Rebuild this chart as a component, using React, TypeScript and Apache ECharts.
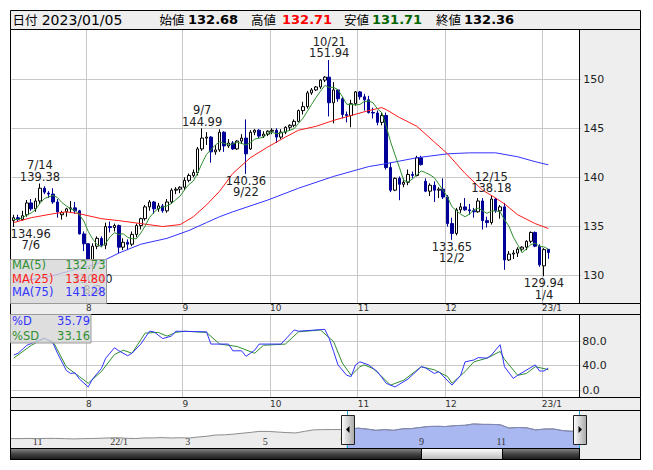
import React, { useEffect, useRef } from "react";
import * as echarts from "echarts";

const FONT = "'DejaVu Sans', 'Noto Sans CJK JP', sans-serif";
const JP = "'Noto Sans CJK JP', 'DejaVu Sans', sans-serif";
const GREEN = "#2f8f2f";
const RED = "#ff1a1a";
const BLUE = "#3333ff";
const NAVY = "#000099";
const GRID = "#c8c8c8";

// ---- trading days shown in the main window (Tokyo business days) ----
const tradeDates = [
  "7/6","7/7","7/8","7/11","7/12","7/13","7/14","7/15","7/19","7/20","7/21","7/22","7/25","7/26","7/27","7/28","7/29",
  "8/1","8/2","8/3","8/4","8/5","8/8","8/9","8/10","8/12","8/15","8/16","8/17","8/18","8/19","8/22","8/23","8/24","8/25","8/26","8/29","8/30","8/31",
  "9/1","9/2","9/5","9/6","9/7","9/8","9/9","9/12","9/13","9/14","9/15","9/16","9/20","9/21","9/22","9/26","9/27","9/28","9/29","9/30",
  "10/3","10/4","10/5","10/6","10/7","10/11","10/12","10/13","10/14","10/17","10/18","10/19","10/20","10/21","10/24","10/25","10/26","10/27","10/28","10/31",
  "11/1","11/2","11/4","11/7","11/8","11/9","11/10","11/11","11/14","11/15","11/16","11/17","11/18","11/21","11/22","11/24","11/25","11/28","11/29","11/30",
  "12/1","12/2","12/5","12/6","12/7","12/8","12/9","12/12","12/13","12/14","12/15","12/16","12/19","12/20","12/21","12/22","12/23","12/26","12/27","12/28","12/29","12/30",
  "1/4","1/5",
];
const blankDates = ["1/6","1/10","1/11","1/12","1/13","1/16","1/17"];
const janYear = "23";

// [open, high, low, close]
const ohlc: number[][] = [
  // July
  [135.60,136.20,134.96,135.90],[135.90,136.20,135.50,135.70],[135.70,136.60,135.60,136.10],[136.20,137.70,136.00,137.40],
  [137.40,137.80,136.60,136.80],[136.80,137.90,136.50,137.60],[137.60,139.38,137.30,138.90],[138.90,139.10,138.30,138.50],
  [138.40,138.60,137.90,138.30],[138.30,138.90,137.30,137.50],[137.50,137.80,135.90,136.50],[136.20,136.60,135.70,136.40],
  [136.50,136.90,136.00,136.80],[136.80,137.60,136.40,136.90],[136.90,137.50,136.30,136.60],[136.60,136.70,134.20,134.25],
  [134.25,134.50,132.50,133.25],
  // August
  [133.25,133.30,131.50,131.60],[131.60,133.30,130.40,133.00],[133.00,134.00,132.70,133.80],[133.80,134.00,132.90,133.10],
  [133.10,135.40,132.70,135.00],[135.00,135.50,134.40,134.90],[134.90,135.30,134.50,135.10],[135.10,135.20,132.30,132.90],
  [132.90,133.80,132.60,133.40],[133.40,133.70,132.60,133.20],[133.20,134.50,133.00,134.20],[134.20,135.30,133.90,135.10],
  [135.10,135.90,134.70,135.80],[135.80,137.20,135.60,137.00],[137.00,137.70,136.60,137.50],[137.50,137.60,136.30,136.80],
  [136.80,137.40,136.50,137.10],[137.10,137.30,136.40,136.60],[136.60,137.80,136.40,137.50],[137.50,138.90,137.30,138.70],
  [138.70,139.00,138.30,138.80],[138.80,139.10,138.40,139.00],
  // September
  [139.00,140.00,138.70,139.70],[139.70,140.40,139.50,140.20],[140.20,140.80,140.00,140.50],[140.50,143.10,140.20,142.90],
  [142.90,144.99,142.70,144.00],[144.00,144.60,143.30,144.10],[144.10,144.20,141.50,142.60],[142.60,143.30,142.30,142.80],
  [142.80,144.90,142.60,144.60],[144.60,144.70,142.60,143.20],[143.20,143.90,143.00,143.50],[143.50,143.70,142.80,142.90],
  [142.90,143.80,142.80,143.70],[143.70,144.40,143.40,144.00],[144.00,145.90,140.36,142.40],[142.90,144.80,142.80,144.60],
  [144.60,144.90,144.30,144.80],[144.80,144.90,144.00,144.20],[144.20,144.70,144.00,144.40],[144.40,144.80,144.20,144.70],
  // October
  [144.70,145.00,144.40,144.80],[144.80,145.00,143.50,144.10],[144.10,144.90,143.90,144.60],[144.60,145.20,144.40,145.10],
  [145.10,145.40,144.80,145.30],[145.30,145.90,145.10,145.70],[145.70,146.90,145.60,146.80],[146.80,147.70,146.40,147.20],
  [147.20,148.80,147.00,148.60],[148.60,149.10,148.40,148.90],[148.90,149.30,148.80,149.20],[149.20,150.00,149.00,149.90],
  [149.90,150.30,149.70,150.20],[150.20,151.94,146.20,147.60],[147.60,149.70,145.50,148.90],[148.90,149.00,147.70,148.00],
  [148.00,148.20,146.00,146.40],[146.40,146.70,145.60,146.30],[146.30,147.90,145.10,147.50],[147.50,148.80,147.30,148.70],
  // November
  [148.70,148.80,147.90,148.20],[148.20,148.50,146.80,147.90],[147.90,148.30,146.50,146.60],[146.60,147.10,146.00,146.55],
  [146.55,146.80,145.30,145.60],[145.60,146.60,145.30,146.30],[146.30,146.60,140.80,141.00],[141.00,141.50,138.50,138.70],
  [138.70,140.00,138.60,139.90],[139.90,140.10,137.68,139.30],[139.30,139.90,139.00,139.50],[139.50,140.80,139.20,140.30],
  [140.30,140.60,139.90,140.20],[140.20,142.20,140.10,142.00],[142.00,142.20,141.20,141.30],[139.60,139.90,138.50,138.60],
  [138.60,139.40,138.10,139.20],[139.20,139.60,137.50,138.70],[138.70,139.00,137.90,138.80],[138.80,139.90,137.80,138.00],
  // December
  [138.00,138.20,135.00,135.30],[135.30,135.90,133.65,134.30],[134.30,136.90,134.10,136.70],[136.70,137.40,136.40,137.00],
  [137.00,137.90,136.60,136.70],[136.70,137.30,136.20,136.60],[136.60,136.90,135.90,136.50],[136.50,137.90,136.40,137.60],
  [137.60,137.90,134.70,135.60],[135.60,136.00,134.90,135.40],[135.40,138.18,135.20,137.80],[137.80,137.90,136.40,136.60],
  [136.60,137.20,135.80,137.00],[137.00,137.40,130.60,131.60],[131.60,132.50,131.50,132.20],[132.20,132.60,131.70,132.30],
  [132.30,132.90,131.90,132.70],[132.70,133.00,132.40,132.90],[132.90,133.60,132.60,133.50],[133.50,134.50,133.30,134.40],
  [134.40,134.50,132.90,133.00],[133.00,133.20,130.90,131.10],
  // January
  [131.00,132.80,129.94,132.65],[132.68,132.71,131.71,132.36],
];
const priorCloses = [135.70, 135.30, 135.80, 135.90];

// moving averages: [day index, value]
const ma25Points = [
  [0,135.4],[4,135.9],[9,136.3],[12,136.5],[15,136.3],[20,135.8],[24,135.6],[29,135.3],[34,135.0],[38,135.2],
  [41,136.0],[44,137.2],[47,138.6],[50,140.4],[54,142.0],[58,143.1],[62,144.1],[65,144.8],[69,145.2],[73,145.8],
  [77,146.3],[81,146.8],[84,147.1],[85,146.9],[88,146.1],[92,145.2],[96,143.6],[99,142.4],[103,140.4],[107,138.7],
  [110,137.9],[112,137.3],[115,136.2],[119,135.3],[122,134.8],
];
const ma75Points = [
  [0,129.3],[8,129.9],[13,130.5],[19,131.2],[24,132.3],[29,133.2],[35,133.8],[40,134.6],[44,135.4],[47,136.0],
  [50,136.5],[58,137.7],[65,138.9],[73,140.1],[81,141.1],[85,141.4],[92,142.0],[99,142.4],[104,142.5],[110,142.5],
  [115,142.1],[119,141.6],[122,141.28],
];
// slow stochastics
const stochD = [
  [0,57],[1,60],[3,73],[5,79],[7,85],[9,76],[10,60],[12,32],[13,27],[14,28],[15,18],[17,5],[18,18],[20,35],[21,52],
  [23,69],[24,64],[26,56],[27,60],[29,75],[31,96],[32,95],[34,84],[36,88],[37,96],[44,95],[45,75],[49,75],[50,64],
  [52,64],[53,55],[55,65],[56,75],[61,75],[64,98],[65,96],[71,99],[72,84],[73,63],[74,41],[76,24],[77,22],[78,41],
  [79,46],[81,41],[83,30],[85,11],[87,5],[90,18],[93,38],[94,36],[96,27],[97,30],[100,8],[102,24],[103,46],[105,49],
  [106,53],[108,52],[109,57],[111,74],[112,38],[114,19],[115,24],[119,41],[120,31],[121,31],[122,35.79],
];
const stochSD = [
  [0,52],[4,73],[7,84],[9,79],[12,38],[14,27],[15,22],[17,11],[20,30],[23,58],[25,65],[27,60],[30,93],[33,94],
  [35,88],[37,94],[39,96],[44,94],[47,75],[51,71],[55,60],[57,73],[62,75],[65,95],[70,98],[73,79],[75,44],[77,24],
  [79,38],[80,41],[82,35],[84,22],[86,8],[89,16],[93,38],[96,33],[99,22],[100,11],[103,30],[105,46],[108,52],
  [111,63],[112,50],[115,24],[117,27],[119,38],[121,35],[122,33.16],
];
const priceTicks = [130, 135, 140, 145, 150];
const stochTicks = [0, 40, 80];
const highMarks = [6, 43, 72, 109];
const lowMarks = [0, 18, 53, 100, 121];

// navigator (weekly closes)
const navDates = [
  "2021-10-14","2021-10-22","2021-10-29","2021-11-05","2021-11-12","2021-11-19","2021-11-26","2021-12-03","2021-12-10",
  "2021-12-17","2021-12-24","2021-12-31","2022-01-07","2022-01-14","2022-01-21","2022-01-28","2022-02-04","2022-02-10",
  "2022-02-18","2022-02-25","2022-03-04","2022-03-11","2022-03-18","2022-03-25","2022-04-01","2022-04-08","2022-04-15",
  "2022-04-22","2022-04-28","2022-05-06","2022-05-13","2022-05-20","2022-05-27","2022-06-03","2022-06-10","2022-06-17",
  "2022-06-24","2022-07-01","2022-07-06","2022-07-08","2022-07-15","2022-07-22","2022-07-29","2022-08-05","2022-08-12",
  "2022-08-19","2022-08-26","2022-09-02","2022-09-09","2022-09-16","2022-09-22","2022-09-30","2022-10-07","2022-10-14",
  "2022-10-21","2022-10-28","2022-11-04","2022-11-11","2022-11-18","2022-11-25","2022-12-02","2022-12-09","2022-12-16",
  "2022-12-23","2022-12-30","2023-01-05",
];
const navValues = [
  113.6,113.5,114.0,113.4,114.0,114.0,113.4,112.8,113.4,
  113.7,114.4,115.1,115.6,114.2,113.7,115.2,115.2,115.9,
  115.0,115.6,114.8,117.3,119.2,122.1,122.5,124.3,126.4,
  128.5,130.8,130.6,129.2,127.9,127.1,130.9,134.4,135.0,
  135.2,135.2,135.9,136.1,138.5,136.4,133.3,135.0,133.4,
  137.0,137.5,140.2,142.6,142.9,142.4,144.7,145.3,148.6,
  147.6,147.5,146.6,138.7,140.2,139.2,134.3,136.5,136.6,
  132.7,131.1,132.4,
];
const navStart = "2021-10-14";
const navEnd = "2023-01-05";
const navSelectFrom = "2022-07-06";
const navLabelUntil = "2022-12-31";

const headerDate = "2023/01/05";
const headerItems = [
  { label: "始値", value: "132.68", color: "#000000" },
  { label: "高値", value: "132.71", color: "#ff0000" },
  { label: "安値", value: "131.71", color: "#006600" },
  { label: "終値", value: "132.36", color: "#000000" },
];
const maLegend = [
  { name: "MA(5)", value: "132.73", color: GREEN },
  { name: "MA(25)", value: "134.80", color: RED },
  { name: "MA(75)", value: "141.28", color: BLUE },
];
const stochLegend = [
  { name: "%D", value: "35.79", color: BLUE },
  { name: "%SD", value: "33.16", color: GREEN },
];

// ---------- derived structures ----------
const allDates = [...tradeDates, ...blankDates];
const boundaryCats = [...allDates, "end"];
const monthOf = (d: string) => +d.split("/")[0];
const isMonthStart = (k: number) =>
  k > 0 && k < allDates.length && monthOf(allDates[k]) !== monthOf(allDates[k - 1]);
const monthLabel = (k: number) => {
  if (!isMonthStart(k)) return "";
  const m = monthOf(allDates[k]);
  return m === 1 ? `${janYear}/1` : String(m);
};

const closesAll = [...priorCloses, ...ohlc.map((r) => r[3])];
const ma5 = ohlc.map((_, i) => {
  const s = closesAll.slice(i, i + 5);
  return +(s.reduce((a, b) => a + b, 0) / 5).toFixed(2);
});

const navDays: string[] = [];
{
  const [y0, m0, d0] = navStart.split("-").map(Number);
  const [y1, m1, d1] = navEnd.split("-").map(Number);
  const end = Date.UTC(y1, m1 - 1, d1);
  for (let t = Date.UTC(y0, m0 - 1, d0); t <= end; t += 86400000) {
    navDays.push(new Date(t).toISOString().slice(0, 10));
  }
}
const navIndex: Record<string, number> = {};
navDays.forEach((d, i) => (navIndex[d] = i));
const navIsTick = (v: string) => v.endsWith("-01") && +v.slice(5, 7) % 2 === 1;
const navIsLabel = (v: string) => navIsTick(v) && v <= navLabelUntil;
const navLabel = (v: string) => {
  if (!navIsLabel(v)) return "";
  const m = +v.slice(5, 7);
  return m === 1 ? `${v.slice(2, 4)}/1` : String(m);
};
const navAll = navDates.map((d, j) => [navIndex[d], navValues[j]]);
const navSel = navDates
  .map((d, j) => ({ d, v: navValues[j] }))
  .filter((p) => p.d >= navSelectFrom)
  .map((p) => [navIndex[p.d], p.v]);

// ---------- graphic helpers ----------
const rect = (id: string, x: number, y: number, w: number, h: number, fill: any, stroke: string, z: number) => ({
  type: "rect", id, silent: true, z,
  shape: { x, y, width: w, height: h },
  style: { fill, stroke, lineWidth: 1 },
});
const text = (id: string, x: number, y: number, t: string, o: any = {}) => ({
  type: "text", id, silent: true, z: o.z ?? 12, x, y,
  style: {
    text: t, fill: o.fill || "#000", fontSize: o.size || 11.5, fontFamily: o.family || FONT,
    fontWeight: o.weight || "normal", align: o.align || "left", verticalAlign: "middle",
  },
});

function buildOption() {
  const darkBar = {
    type: "linear", x: 0, y: 0, x2: 0, y2: 1,
    colorStops: [{ offset: 0, color: "#8a8a8a" }, { offset: 0.5, color: "#444" }, { offset: 1, color: "#1a1a1a" }],
  };
  const lightThumb = {
    type: "linear", x: 0, y: 0, x2: 0, y2: 1,
    colorStops: [{ offset: 0, color: "#ffffff" }, { offset: 1, color: "#b8b8b8" }],
  };
  const headerX = [[151.6, 180], [243, 274], [336, 364], [428, 456]];
  const elements: any[] = [
    rect("bgHdr", 2.5, 2.5, 630, 19, "#eeeeee", "#000", 0),
    rect("bgMainR", 571.5, 21.5, 61, 274, "#eeeeee", "#000", 0),
    rect("bgStrip1", 2.5, 295.5, 630, 11, "#eeeeee", "#000", 0),
    rect("bgStochR", 571.5, 306.5, 61, 83, "#eeeeee", "#000", 0),
    rect("bgStrip2", 2.5, 389.5, 630, 13, "#eeeeee", "#000", 0),
    rect("bgNavR", 571.5, 402.5, 61, 49, "#eeeeee", "#000", 0),
    rect("frMain", 2.5, 21.5, 569, 274, "none", "#000", 10),
    rect("frStoch", 2.5, 306.5, 569, 83, "none", "#000", 10),
    rect("frNav", 2.5, 402.5, 630, 49, "none", "#000", 10),
    rect("scrollBar", 2.5, 440.5, 569, 11, darkBar, "#000", 10),
    rect("scrollThumb", 413.5, 440.5, 81, 11, lightThumb, "#000", 11),
    text("txtDateLbl", 4.5, 11.5, "日付", { size: 12.5, family: JP }),
    text("txtDate", 33.7, 11.5, headerDate, { size: 14 }),
    rect("maBox", 2.5, 251.5, 96, 44, "rgba(214,214,214,0.8)", "#9a9a9a", 11),
    rect("stBox", 2.5, 306.5, 80.5, 28.5, "rgba(214,214,214,0.8)", "#9a9a9a", 11),
  ];
  headerItems.forEach((h, k) => {
    elements.push(text(`txtHL${k}`, headerX[k][0], 11.5, h.label, { size: 12.5, family: JP }));
    elements.push(text(`txtHV${k}`, headerX[k][1], 11.5, h.value, { size: 13, weight: "bold", fill: h.color }));
  });
  const maRowY = [257.3, 270.7, 283.5];
  maLegend.forEach((m, k) => {
    elements.push(text(`txtMaN${k}`, 4, maRowY[k], m.name, { fill: m.color }));
    elements.push(text(`txtMaV${k}`, 97.5, maRowY[k], m.value, { fill: m.color, align: "right" }));
  });
  const stRowY = [313.3, 327.5];
  stochLegend.forEach((m, k) => {
    elements.push(text(`txtStN${k}`, 4, stRowY[k], m.name, { fill: m.color }));
    elements.push(text(`txtStV${k}`, 82, stRowY[k], m.value, { fill: m.color, align: "right" }));
  });

  const hiddenX = (gridIndex: number) => ({
    type: "category", gridIndex, data: allDates, boundaryGap: true, show: false, position: "bottom",
  });
  const boundaryX = (gridIndex: number, margin: number) => ({
    type: "category", gridIndex, data: boundaryCats, boundaryGap: false, position: "bottom", z: 1,
    axisLine: { show: false }, axisTick: { show: false },
    axisLabel: {
      interval: (i: number) => isMonthStart(i), formatter: (_v: string, i: number) => monthLabel(i),
      align: "left", margin, fontSize: 9, color: "#333", fontFamily: FONT, hideOverlap: false,
    },
    splitLine: { show: true, interval: (i: number) => isMonthStart(i), lineStyle: { color: GRID, width: 1 } },
  });

  const markData = [
    ...highMarks.map((i) => ({
      coord: [i, ohlc[i][1]],
      label: { position: "top", formatter: `${allDates[i]}\n${ohlc[i][1].toFixed(2)}` },
    })),
    ...lowMarks.map((i) => ({
      coord: [i, ohlc[i][2]],
      label: { position: "bottom", formatter: `${ohlc[i][2].toFixed(2)}\n${allDates[i]}`, offset: i === 0 ? [17, 0] : [0, 0] },
    })),
  ];

  return {
    animation: false,
    backgroundColor: "#ffffff",
    textStyle: { fontFamily: FONT },
    grid: [
      { left: 3.5, top: 21, width: 569.7, height: 274, containLabel: false, outerBoundsMode: "none", show: false },
      { left: 3.5, top: 306, width: 569.7, height: 83, containLabel: false, outerBoundsMode: "none", show: false },
      { left: 2, top: 402, width: 569, height: 38, containLabel: false, outerBoundsMode: "none", show: false },
    ],
    xAxis: [
      hiddenX(0),
      boundaryX(0, 0),
      hiddenX(1),
      boundaryX(1, 2),
      {
        type: "category", gridIndex: 2, data: navDays, boundaryGap: false, position: "bottom", z: 3,
        axisLine: { show: false }, axisTick: { show: false },
        axisLabel: {
          inside: true, interval: (_i: number, v: string) => navIsLabel(v), formatter: (v: string) => navLabel(v),
          align: "left", margin: 2, fontSize: 10, color: "#333", fontFamily: "'Liberation Serif', serif", hideOverlap: false,
        },
        splitLine: { show: true, interval: (_i: number, v: string) => navIsTick(v), lineStyle: { color: "#ffffff", width: 1 } },
      },
    ],
    yAxis: [
      {
        type: "value", gridIndex: 0, position: "right", min: 127.22, max: 155.1, z: 1,
        axisLine: { show: false }, axisTick: { show: false, customValues: priceTicks },
        axisLabel: { customValues: priceTicks, margin: 2, fontSize: 11, color: "#222", fontFamily: FONT },
        splitLine: { show: true, lineStyle: { color: GRID, width: 1 } },
      },
      {
        type: "value", gridIndex: 1, position: "right", min: -11.4, max: 124.1, z: 1,
        axisLine: { show: false }, axisTick: { show: false, customValues: stochTicks },
        axisLabel: { customValues: stochTicks, margin: 1, fontSize: 11, color: "#222", fontFamily: FONT, formatter: (v: number) => v.toFixed(1) },
        splitLine: { show: true, lineStyle: { color: GRID, width: 1 } },
      },
      { type: "value", gridIndex: 2, min: 91, max: 182, show: false, splitLine: { show: false } },
    ],
    series: [
      {
        type: "candlestick", xAxisIndex: 0, yAxisIndex: 0, barWidth: 3, silent: true,
        data: ohlc.map(([o, h, l, c]) => [o, c, l, h]),
        itemStyle: { color: "#ffffff", color0: NAVY, borderColor: "#000000", borderColor0: NAVY, borderWidth: 1 },
        markPoint: {
          symbol: "circle", symbolSize: 0, silent: true,
          itemStyle: { color: "transparent" },
          label: { show: true, color: "#222", fontSize: 11.5, lineHeight: 11.6, distance: 1, fontFamily: FONT },
          data: markData,
        },
      },
      { type: "line", xAxisIndex: 0, yAxisIndex: 0, data: ma75Points, showSymbol: false, symbol: "none", silent: true, lineStyle: { color: BLUE, width: 1 } },
      { type: "line", xAxisIndex: 0, yAxisIndex: 0, data: ma25Points, showSymbol: false, symbol: "none", silent: true, lineStyle: { color: RED, width: 1 } },
      { type: "line", xAxisIndex: 0, yAxisIndex: 0, data: ma5, showSymbol: false, symbol: "none", silent: true, lineStyle: { color: GREEN, width: 1 } },
      { type: "line", xAxisIndex: 2, yAxisIndex: 1, data: stochSD, showSymbol: false, symbol: "none", silent: true, lineStyle: { color: GREEN, width: 1 } },
      { type: "line", xAxisIndex: 2, yAxisIndex: 1, data: stochD, showSymbol: false, symbol: "none", silent: true, lineStyle: { color: BLUE, width: 1 } },
      {
        type: "line", xAxisIndex: 4, yAxisIndex: 2, data: navAll, showSymbol: false, symbol: "none", silent: true,
        lineStyle: { color: "#8c8c8c", width: 1 }, areaStyle: { color: "#ececec", opacity: 1, origin: "start" },
      },
      {
        type: "line", xAxisIndex: 4, yAxisIndex: 2, data: navSel, showSymbol: false, symbol: "none", silent: true,
        lineStyle: { color: "#7f88b8", width: 1 }, areaStyle: { color: "#aab8f2", opacity: 1, origin: "start" },
      },
    ],
    graphic: { elements },
  };
}

export default function App() {
  const ref = useRef<HTMLDivElement>(null);
  useEffect(() => {
    if (!ref.current) return;
    const chart = echarts.init(ref.current, null, { renderer: "svg" });
    chart.setOption(buildOption() as any);
    const xL = Math.round(chart.convertToPixel({ xAxisIndex: 4 } as any, navIndex[navSelectFrom]) as number) + 0.5;
    const xR = Math.round(chart.convertToPixel({ xAxisIndex: 4 } as any, navIndex[navEnd]) as number) + 0.5;
    const handleFill = {
      type: "linear", x: 0, y: 0, x2: 1, y2: 0,
      colorStops: [{ offset: 0, color: "#ffffff" }, { offset: 1, color: "#a8a8a8" }],
    };
    const handleEls: any[] = [];
    [xL, xR].forEach((x, k) => {
      handleEls.push({ type: "line", id: `navCyan${k}`, silent: true, z: 12, shape: { x1: x, y1: 403, x2: x, y2: 440 }, style: { stroke: "#2aa7dd", lineWidth: 1 } });
      handleEls.push({ type: "rect", id: `navHandle${k}`, silent: true, z: 13, shape: { x: x - 6, y: 407.5, width: 13, height: 29 }, style: { fill: handleFill, stroke: "#222", lineWidth: 1 } });
      const pts = k === 0
        ? [[x + 2, 418], [x + 2, 425], [x - 1.5, 421.5]]
        : [[x - 1, 418], [x - 1, 425], [x + 2.5, 421.5]];
      handleEls.push({ type: "polygon", id: `navTri${k}`, silent: true, z: 14, shape: { points: pts }, style: { fill: "#000" } });
    });
    chart.setOption({ graphic: { elements: handleEls } } as any);
    return () => chart.dispose();
  }, []);
  return <div ref={ref} style={{ width: 637, height: 454 }} />;
}
